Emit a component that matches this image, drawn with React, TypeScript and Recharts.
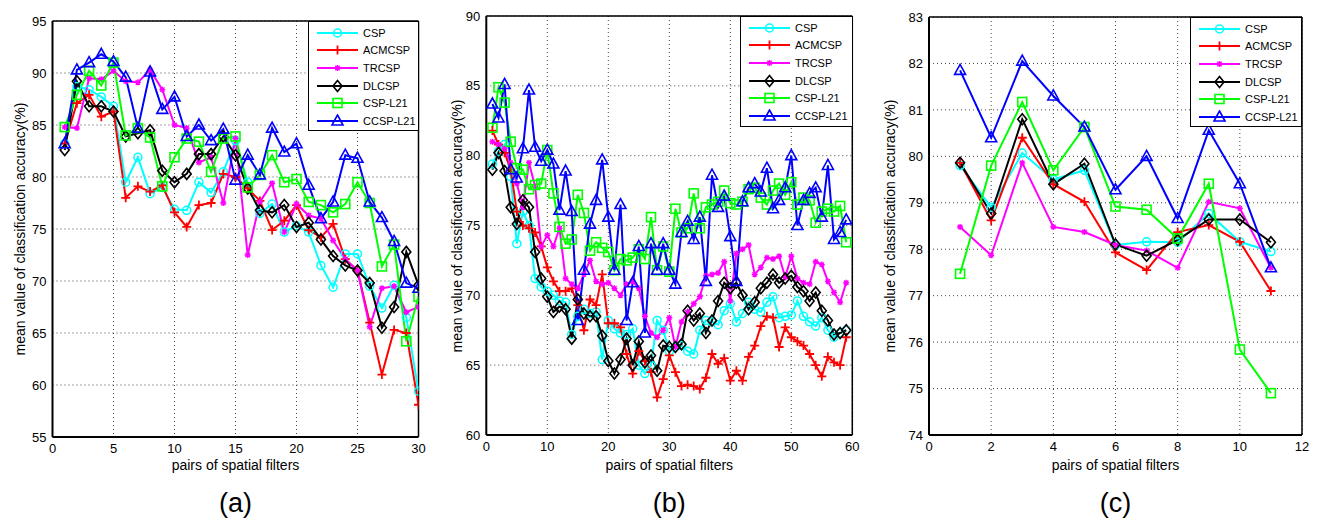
import React from 'react';
import { LineChart, Line, XAxis, YAxis, CartesianGrid, ReferenceLine, Legend } from 'recharts';

const NAMES = ['CSP', 'ACMCSP', 'TRCSP', 'DLCSP', 'CSP-L21', 'CCSP-L21'];
const COLORS = ['#00FFFF', '#FF0000', '#FF00FF', '#000000', '#00FF00', '#0000FF'];
const MARKS = ['circle', 'plus', 'star', 'diamond', 'square', 'triangle'];

// ---- panel (a)
const A_X = [1, 2, 3, 4, 5, 6, 7, 8, 9, 10, 11, 12, 13, 14, 15, 16, 17, 18, 19, 20, 21, 22, 23, 24, 25, 26, 27, 28, 29, 30];
const A_CSP = [83.2, 88.7, 88.4, 87.7, 86.8, 79.5, 81.9, 78.4, 79.0, 76.9, 76.8, 79.5, 78.5, 80.5, 83.5, 79.5, 76.5, 77.4, 74.7, 75.3, 74.7, 71.5, 69.4, 72.6, 72.6, 69.5, 67.4, 69.6, 66.5, 59.4];
const A_ACMCSP = [83.2, 87.1, 87.9, 85.8, 86.3, 78.0, 79.1, 78.6, 79.2, 76.6, 75.2, 77.3, 77.5, 80.3, 80.0, 78.9, 77.7, 74.9, 75.8, 77.3, 74.9, 74.2, 75.5, 72.1, 71.0, 66.0, 61.0, 65.3, 65.0, 58.1];
const A_TRCSP = [84.8, 84.7, 89.5, 89.4, 90.2, 89.2, 89.1, 90.3, 88.4, 85.0, 84.7, 81.4, 81.9, 77.5, 83.7, 72.5, 77.6, 79.4, 74.7, 77.4, 76.3, 76.0, 73.9, 72.1, 71.0, 65.6, 69.3, 69.5, 67.0, 67.5];
const A_DLCSP = [82.6, 89.2, 86.8, 86.8, 86.3, 83.9, 84.2, 84.5, 80.6, 79.5, 80.3, 82.2, 82.2, 83.9, 82.1, 78.9, 76.8, 76.6, 77.3, 75.2, 75.6, 74.0, 72.4, 71.5, 71.0, 69.8, 65.5, 67.5, 72.8, 69.6];
const A_CSPL21 = [84.8, 87.9, 90.2, 88.8, 91.0, 84.0, 84.7, 83.8, 79.1, 81.9, 83.7, 83.4, 80.5, 83.7, 83.9, 79.0, 80.2, 82.1, 79.5, 79.8, 77.6, 77.3, 76.6, 77.4, 79.5, 77.5, 71.4, 73.5, 64.2, 68.5];
const A_CCSPL21 = [83.2, 90.3, 91.0, 91.8, 91.1, 89.6, 84.7, 90.1, 86.5, 87.7, 83.9, 85.0, 83.5, 84.6, 79.7, 82.1, 80.2, 84.7, 82.4, 83.2, 79.2, 76.0, 77.6, 82.1, 81.8, 77.6, 76.1, 73.8, 69.8, 69.3];

// ---- panel (b)
const B_X = [1, 2, 3, 4, 5, 6, 7, 8, 9, 10, 11, 12, 13, 14, 15, 16, 17, 18, 19, 20, 21, 22, 23, 24, 25, 26, 27, 28, 29, 30, 31, 32, 33, 34, 35, 36, 37, 38, 39, 40, 41, 42, 43, 44, 45, 46, 47, 48, 49, 50, 51, 52, 53, 54, 55, 56, 57, 58, 59];
const B_CSP = [79.4, 80.3, 80.8, 78.5, 73.7, 76.0, 75.0, 71.2, 70.6, 70.3, 70.0, 69.6, 69.5, 67.2, 68.5, 69.0, 68.7, 68.8, 65.4, 68.2, 67.6, 67.3, 67.2, 67.6, 65.0, 64.4, 65.0, 68.2, 67.5, 66.0, 66.3, 66.4, 66.0, 65.8, 67.5, 68.2, 68.1, 67.9, 68.9, 69.4, 68.1, 68.7, 69.5, 69.0, 68.8, 69.5, 69.9, 68.4, 68.5, 68.6, 69.6, 68.5, 68.1, 67.8, 68.4, 67.5, 67.0, 67.3, 67.5];
const B_ACMCSP = [81.8, 80.8, 80.2, 79.0, 76.0, 75.0, 74.8, 74.5, 73.5, 72.0, 71.0, 70.3, 70.3, 70.5, 69.3, 67.5, 69.7, 69.3, 71.5, 68.0, 68.0, 67.7, 65.8, 64.4, 66.0, 65.3, 64.5, 62.7, 64.0, 65.7, 64.5, 63.5, 63.6, 63.5, 63.3, 64.1, 65.8, 65.1, 65.5, 63.9, 64.6, 63.9, 65.6, 66.4, 67.8, 68.5, 68.4, 66.3, 67.7, 67.0, 66.7, 66.4, 65.8, 65.0, 64.2, 65.6, 65.2, 65.0, 67.0];
const B_TRCSP = [81.0, 80.8, 80.5, 79.5, 78.0, 76.3, 79.5, 77.8, 73.5, 74.3, 73.5, 74.8, 71.2, 70.8, 70.5, 71.5, 72.5, 71.0, 70.8, 70.9, 70.5, 70.0, 70.8, 71.0, 70.5, 68.5, 67.3, 67.0, 67.5, 68.4, 66.3, 68.1, 68.8, 69.4, 69.9, 71.4, 71.5, 71.6, 72.4, 69.6, 73.0, 73.3, 73.6, 71.5, 72.0, 72.7, 72.6, 72.8, 71.3, 72.8, 71.2, 70.9, 70.8, 72.4, 72.2, 71.0, 70.2, 69.5, 70.9];
const B_DLCSP = [79.0, 80.2, 78.9, 76.3, 75.1, 76.8, 76.3, 73.1, 71.2, 69.9, 68.8, 69.2, 69.0, 66.9, 69.7, 68.7, 68.5, 68.5, 67.1, 65.3, 64.4, 65.4, 66.9, 65.0, 66.7, 65.2, 65.7, 64.6, 66.4, 66.3, 66.3, 66.5, 68.9, 68.2, 68.7, 67.3, 68.2, 69.6, 70.9, 70.5, 70.9, 70.0, 69.0, 69.5, 70.5, 70.9, 71.5, 70.9, 71.2, 71.4, 70.6, 70.3, 69.6, 70.2, 68.9, 68.2, 67.2, 67.3, 67.5];
const B_CSPL21 = [82.0, 84.9, 83.8, 81.0, 79.1, 79.0, 77.6, 77.9, 78.0, 80.4, 77.3, 74.9, 73.7, 74.0, 77.2, 75.9, 73.2, 73.8, 73.4, 73.1, 71.8, 72.6, 72.5, 72.7, 73.3, 72.6, 75.6, 71.8, 73.5, 71.7, 76.2, 74.5, 74.8, 77.3, 74.8, 76.3, 76.5, 76.7, 77.5, 76.6, 76.5, 76.7, 77.6, 77.7, 77.0, 76.5, 77.5, 78.0, 77.2, 78.1, 76.5, 77.0, 76.8, 75.2, 76.0, 76.2, 76.0, 76.4, 73.8];
const B_CCSPL21 = [83.7, 82.7, 85.1, 79.0, 78.4, 80.5, 84.7, 80.6, 79.6, 80.4, 79.4, 76.1, 78.9, 76.0, 68.2, 71.8, 75.1, 76.8, 79.7, 75.6, 71.8, 76.5, 68.2, 70.9, 73.5, 67.3, 73.7, 71.8, 73.7, 71.8, 70.8, 74.5, 75.3, 74.0, 75.6, 71.0, 78.6, 76.3, 77.1, 74.2, 71.0, 76.7, 77.7, 78.0, 77.4, 79.1, 76.2, 76.8, 77.7, 80.0, 75.0, 76.8, 77.3, 77.7, 75.6, 79.3, 74.0, 74.5, 75.4];

// ---- panel (c)
const C_X = [1, 2, 3, 4, 5, 6, 7, 8, 9, 10, 11];
const C_CSP = [79.8, 78.9, 80.07, 79.5, 79.7, 78.09, 78.16, 78.15, 78.77, 78.16, 77.95];
const C_ACMCSP = [79.86, 78.62, 80.4, 79.4, 79.02, 77.93, 77.55, 78.37, 78.52, 78.16, 77.1];
const C_TRCSP = [78.48, 77.87, 79.86, 78.48, 78.37, 78.09, 77.97, 77.6, 79.02, 78.88, 77.6];
const C_DLCSP = [79.86, 78.77, 80.8, 79.4, 79.84, 78.1, 77.86, 78.2, 78.64, 78.64, 78.15];
const C_CSPL21 = [77.47, 79.8, 81.17, 79.7, 80.63, 78.92, 78.85, 78.23, 79.41, 75.84, 74.9];
const C_CCSPL21 = [81.85, 80.4, 82.05, 81.3, 80.63, 79.28, 80.0, 78.66, 80.56, 79.41, 77.6];

const A_XTICKS = [0, 5, 10, 15, 20, 25, 30];
const A_YTICKS = [55, 60, 65, 70, 75, 80, 85, 90, 95];
const B_XTICKS = [0, 10, 20, 30, 40, 50, 60];
const B_YTICKS = [60, 65, 70, 75, 80, 85, 90];
const C_XTICKS = [0, 2, 4, 6, 8, 10, 12];
const C_YTICKS = [74, 75, 76, 77, 78, 79, 80, 81, 82, 83];

const FONT = '"Liberation Sans", Arial, sans-serif';

function Marker({ kind, cx, cy, color }: { kind: string; cx: number; cy: number; color: string }) {
  if (cx == null || cy == null) return null;
  switch (kind) {
    case 'circle':
      return <circle cx={cx} cy={cy} r={4} fill="none" stroke={color} strokeWidth={1.5} />;
    case 'plus':
      return <path d={`M${cx - 4.5},${cy}H${cx + 4.5}M${cx},${cy - 4.5}V${cy + 4.5}`} stroke={color} strokeWidth={1.8} />;
    case 'star':
      return (
        <path
          d={`M${cx - 3},${cy}H${cx + 3}M${cx},${cy - 3}V${cy + 3}M${cx - 2.2},${cy - 2.2}L${cx + 2.2},${cy + 2.2}M${cx - 2.2},${cy + 2.2}L${cx + 2.2},${cy - 2.2}`}
          stroke={color}
          strokeWidth={1.4}
        />
      );
    case 'diamond':
      return <path d={`M${cx},${cy - 5.5}L${cx + 4.5},${cy}L${cx},${cy + 5.5}L${cx - 4.5},${cy}Z`} fill="none" stroke={color} strokeWidth={1.6} />;
    case 'square':
      return <rect x={cx - 4.5} y={cy - 4.5} width={9} height={9} fill="none" stroke={color} strokeWidth={1.6} />;
    case 'triangle':
      return <path d={`M${cx},${cy - 6}L${cx + 5.5},${cy + 4}L${cx - 5.5},${cy + 4}Z`} fill="none" stroke={color} strokeWidth={1.6} />;
    default:
      return null;
  }
}

function LegendBox({ width, height }: { width: number; height: number }) {
  return (
    <div
      style={{
        width,
        height,
        boxSizing: 'border-box',
        border: '1.5px solid #000',
        background: '#fff',
        paddingTop: 2,
        fontFamily: FONT,
        fontSize: 11,
      }}
    >
      {NAMES.map((n, i) => (
        <div key={n} style={{ height: 17.6, display: 'flex', alignItems: 'center' }}>
          <svg width={52} height={14} style={{ flex: 'none' }}>
            <line x1={8} y1={7} x2={49} y2={7} stroke={COLORS[i]} strokeWidth={2} />
            <Marker kind={MARKS[i]} cx={28.5} cy={7} color={COLORS[i]} />
          </svg>
          <span style={{ marginLeft: 2, color: '#000' }}>{n}</span>
        </div>
      ))}
    </div>
  );
}

type PanelProps = {
  left: number;
  plotLeft: number;
  plotRight: number;
  plotTop: number;
  plotBottom: number;
  xs: number[];
  series: number[][];
  xTicks: number[];
  yTicks: number[];
  legendLeft: number;
  legendTop: number;
  legendW: number;
  legendH: number;
  yLabelX: number;
  tag: string;
};

const CHART_W = 440;
const CHART_H = 470;
const Y_AXIS_W = 40;
const X_AXIS_H = 24;

function Panel(p: PanelProps) {
  const rows = p.xs.map((x, i) => {
    const r: Record<string, number> = { x };
    NAMES.forEach((n, k) => {
      r[n] = p.series[k][i];
    });
    return r;
  });
  const xMin = p.xTicks[0];
  const xMax = p.xTicks[p.xTicks.length - 1];
  const yMin = p.yTicks[0];
  const yMax = p.yTicks[p.yTicks.length - 1];
  const margin = {
    top: p.plotTop,
    bottom: CHART_H - p.plotBottom - X_AXIS_H,
    left: p.plotLeft - p.left - Y_AXIS_W,
    right: p.left + CHART_W - p.plotRight,
  };
  const midY = (p.plotTop + p.plotBottom) / 2;
  const midX = (p.plotLeft + p.plotRight) / 2;
  return (
    <>
      <div style={{ position: 'absolute', left: p.left, top: 0 }}>
        <LineChart width={CHART_W} height={CHART_H} data={rows} margin={margin}>
          <CartesianGrid stroke="#444" strokeDasharray="1 3" strokeWidth={1} horizontalValues={p.yTicks} verticalValues={p.xTicks} />
          <XAxis
            type="number"
            dataKey="x"
            domain={[xMin, xMax]}
            ticks={p.xTicks}
            height={X_AXIS_H}
            tickLine={false}
            tickSize={4}
            tickMargin={3}
            axisLine={{ stroke: '#000', strokeWidth: 2 }}
            tick={{ fill: '#000', fontSize: 13, fontFamily: FONT }}
            allowDataOverflow
          />
          <YAxis
            type="number"
            domain={[yMin, yMax]}
            ticks={p.yTicks}
            width={Y_AXIS_W}
            tickLine={false}
            tickSize={4}
            tickMargin={2}
            axisLine={{ stroke: '#000', strokeWidth: 2 }}
            tick={{ fill: '#000', fontSize: 13, fontFamily: FONT }}
            allowDataOverflow
          />
          <ReferenceLine x={xMax} stroke="#000" strokeWidth={1.5} />
          <ReferenceLine y={yMax} stroke="#000" strokeWidth={1.5} />
          {NAMES.map((n, k) => (
            <Line
              key={n}
              dataKey={n}
              stroke={COLORS[k]}
              strokeWidth={2}
              isAnimationActive={false}
              dot={(d: any) => <Marker key={`${n}-${d.index}`} kind={MARKS[k]} cx={d.cx} cy={d.cy} color={COLORS[k]} />}
            />
          ))}
          <Legend
            layout="vertical"
            align="center"
            verticalAlign="middle"
            wrapperStyle={{ position: 'absolute', left: p.legendLeft - p.left, top: p.legendTop, width: p.legendW, height: p.legendH }}
            content={() => <LegendBox width={p.legendW} height={p.legendH} />}
          />
        </LineChart>
      </div>
      <div
        style={{
          position: 'absolute',
          left: p.yLabelX - 200,
          top: midY - 9,
          width: 400,
          height: 18,
          lineHeight: '18px',
          textAlign: 'center',
          transform: 'rotate(-90deg)',
          fontSize: 14,
          fontFamily: FONT,
          whiteSpace: 'nowrap',
        }}
      >
        mean value of classification accuracy(%)
      </div>
      <div
        style={{
          position: 'absolute',
          left: midX - 150,
          top: 457,
          width: 300,
          textAlign: 'center',
          fontSize: 14,
          fontFamily: FONT,
        }}
      >
        pairs of spatial filters
      </div>
      <div
        style={{
          position: 'absolute',
          left: midX - 100,
          top: 488,
          width: 200,
          textAlign: 'center',
          fontSize: 27,
          fontFamily: FONT,
        }}
      >
        {p.tag}
      </div>
    </>
  );
}

export default function App() {
  return (
    <div style={{ position: 'absolute', left: 0, top: 0, width: 1320, height: 526, background: '#fff', overflow: 'hidden' }}>
      <Panel
        left={0}
        plotLeft={52.5}
        plotRight={418.5}
        plotTop={21}
        plotBottom={437}
        xs={A_X}
        series={[A_CSP, A_ACMCSP, A_TRCSP, A_DLCSP, A_CSPL21, A_CCSPL21]}
        xTicks={A_XTICKS}
        yTicks={A_YTICKS}
        legendLeft={308}
        legendTop={21}
        legendW={111}
        legendH={110}
        yLabelX={20}
        tag="(a)"
      />
      <Panel
        left={440}
        plotLeft={486.3}
        plotRight={852.3}
        plotTop={16}
        plotBottom={435}
        xs={B_X}
        series={[B_CSP, B_ACMCSP, B_TRCSP, B_DLCSP, B_CSPL21, B_CCSPL21]}
        xTicks={B_XTICKS}
        yTicks={B_YTICKS}
        legendLeft={740}
        legendTop={16}
        legendW={113}
        legendH={111}
        yLabelX={457}
        tag="(b)"
      />
      <Panel
        left={880}
        plotLeft={929}
        plotRight={1302}
        plotTop={17}
        plotBottom={435}
        xs={C_X}
        series={[C_CSP, C_ACMCSP, C_TRCSP, C_DLCSP, C_CSPL21, C_CCSPL21]}
        xTicks={C_XTICKS}
        yTicks={C_YTICKS}
        legendLeft={1190}
        legendTop={17}
        legendW={112}
        legendH={110}
        yLabelX={890}
        tag="(c)"
      />
    </div>
  );
}
